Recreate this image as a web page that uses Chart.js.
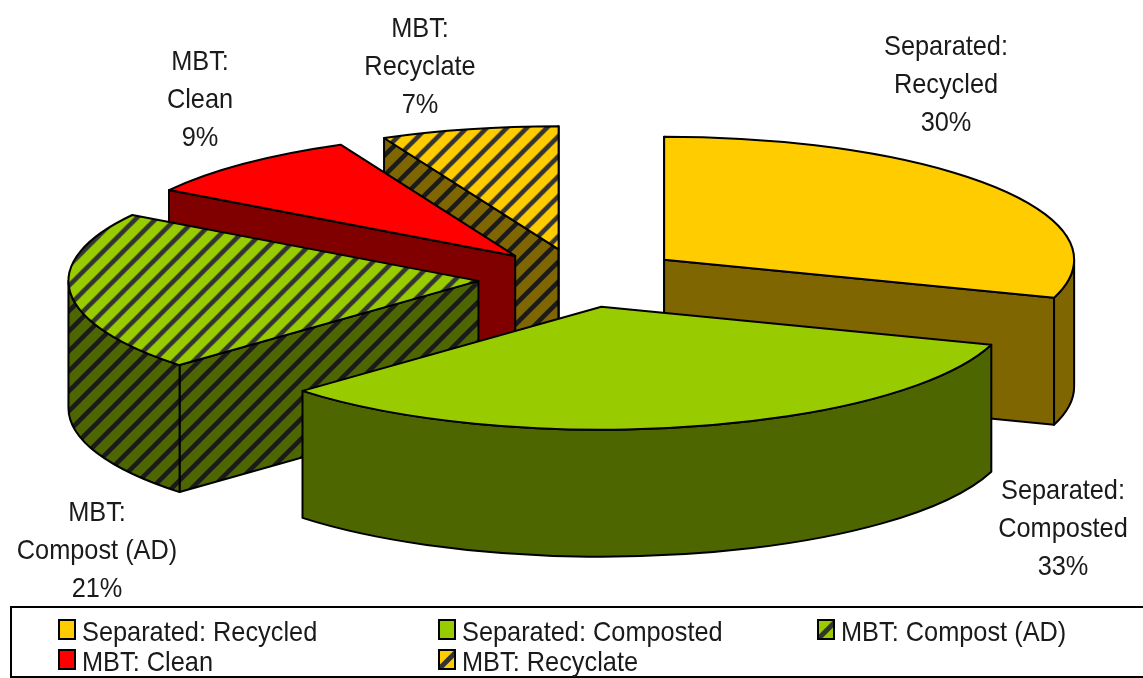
<!DOCTYPE html>
<html>
<head>
<meta charset="utf-8">
<title>Waste treatment shares</title>
<script src="https://cdn.jsdelivr.net/npm/chart.js@4"></script>
<style>
  html, body { margin: 0; padding: 0; background: #fff; overflow: hidden; }
  #chart { display: block; filter: blur(0.4px); }
</style>
</head>
<body>
<canvas id="chart" width="1143" height="678"></canvas>
<script>
// data
const categories = ['Separated: Recycled', 'Separated: Composted', 'MBT: Compost (AD)', 'MBT: Clean', 'MBT: Recyclate'];
const shares = [30, 33, 21, 9, 7];
const labelLines = [
    ['Separated:', 'Recycled'],
    ['Separated:', 'Composted'],
    ['MBT:', 'Compost (AD)'],
    ['MBT:', 'Clean'],
    ['MBT:', 'Recyclate']
];

const topColors = ['#ffcc00', '#99cc00', '#99cc00', '#ff0000', '#ffcc00'];
const sideColors = ['#806600', '#4d6600', '#4d6600', '#800000', '#806600'];
const hatched = [false, false, true, false, true];

// look of the fake 3D
const SQUASH = 0.3;
const DEPTH = 127;
const EXPLODE = [104, 98, 102, 98, 98];
const RADIUS = 410;
const CENTER_Y = 278;
const FONT = '28px "Liberation Sans", Arial, sans-serif';
const TEXT_SQUEEZE = 0.905;
const TEXT_COLOR = '#1a1a1a';
const LINE_WIDTH = 2;

function makeHatch(bg, stripe, unsquash) {
    const size = 20;
    const tile = document.createElement('canvas');
    tile.width = size;
    tile.height = size;
    const c = tile.getContext('2d');
    c.fillStyle = bg;
    c.fillRect(0, 0, size, size);
    c.strokeStyle = stripe;
    c.lineWidth = 4.5;
    [-size, 0, size].forEach(shift => {
        c.beginPath();
        c.moveTo(shift - 2, size + 2);
        c.lineTo(shift + size + 2, -2);
        c.stroke();
    });
    const pattern = c.createPattern(tile, 'repeat');
    // arcs are filled under the squash transform, so stretch the tile back
    if (unsquash) pattern.setTransform(new DOMMatrix().scale(1, 1 / SQUASH));
    return pattern;
}

const topFills = topColors.map((col, i) => hatched[i] ? makeHatch(col, '#333333', true) : col);
const sideFills = sideColors.map((col, i) => hatched[i] ? makeHatch(col, '#1a1a1a', false) : col);

// where each slice label and legend entry goes
const labelSpots = [[946, 47], [1063, 491], [97, 513], [200, 62], [420, 29]];
const legendSpots = [[59, 620], [439, 620], [818, 620], [59, 650], [439, 650]];

function sliceGeometry(el) {
    return {
        x: el.x,
        y: CENTER_Y + (el.y - CENTER_Y) * SQUASH,
        rx: el.outerRadius,
        ry: el.outerRadius * SQUASH,
        start: el.startAngle,
        end: el.endAngle
    };
}

function pointOn(g, angle) {
    return [g.x + Math.cos(angle) * g.rx, g.y + Math.sin(angle) * g.ry];
}

function drawQuad(ctx, a, b, fill) {
    ctx.beginPath();
    ctx.moveTo(a[0], a[1]);
    ctx.lineTo(b[0], b[1]);
    ctx.lineTo(b[0], b[1] + DEPTH);
    ctx.lineTo(a[0], a[1] + DEPTH);
    ctx.closePath();
    ctx.fillStyle = fill;
    ctx.fill();
    ctx.stroke();
}

function drawWalls(ctx, g, fill) {
    const eps = 1e-6;
    const apex = [g.x, g.y];
    // only the faces turned towards the viewer
    if (Math.cos(g.start) < eps) drawQuad(ctx, apex, pointOn(g, g.start), fill);
    if (Math.cos(g.end) > -eps) drawQuad(ctx, apex, pointOn(g, g.end), fill);
    const from = Math.max(g.start, 0);
    const to = Math.min(g.end, Math.PI);
    if (to > from) {
        ctx.beginPath();
        ctx.ellipse(g.x, g.y, g.rx, g.ry, 0, from, to);
        ctx.ellipse(g.x, g.y + DEPTH, g.rx, g.ry, 0, to, from, true);
        ctx.closePath();
        ctx.fillStyle = fill;
        ctx.fill();
        ctx.stroke();
    }
}

function squeezedText(ctx, text, x, y) {
    ctx.fillText(text, x, y, ctx.measureText(text).width * TEXT_SQUEEZE);
}

const fakePie3d = {
    id: 'fakePie3d',
    afterDatasetsUpdate(chart) {
        // pull every slice out from the centre
        chart.getDatasetMeta(0).data.forEach((el, i) => {
            const mid = (el.startAngle + el.endAngle) / 2;
            el.x += Math.cos(mid) * EXPLODE[i];
            el.y += Math.sin(mid) * EXPLODE[i];
        });
    },
    beforeDatasetsDraw(chart) {
        const ctx = chart.ctx;
        const arcs = chart.getDatasetMeta(0).data;
        ctx.save();
        ctx.strokeStyle = '#000';
        ctx.lineWidth = LINE_WIDTH;
        ctx.lineJoin = 'round';
        arcs.map((el, i) => ({ el, i }))
            .sort((a, b) => a.el.y - b.el.y)
            .forEach(item => drawWalls(ctx, sliceGeometry(item.el), sideFills[item.i]));
        ctx.restore();
        // the library fills the top faces under this squash
        ctx.save();
        ctx.translate(0, CENTER_Y);
        ctx.scale(1, SQUASH);
        ctx.translate(0, -CENTER_Y);
    },
    afterDatasetsDraw(chart) {
        const ctx = chart.ctx;
        ctx.restore();
        ctx.save();
        ctx.strokeStyle = '#000';
        ctx.lineWidth = LINE_WIDTH;
        ctx.lineJoin = 'round';
        chart.getDatasetMeta(0).data.forEach(el => {
            const g = sliceGeometry(el);
            ctx.beginPath();
            ctx.moveTo(g.x, g.y);
            ctx.ellipse(g.x, g.y, g.rx, g.ry, 0, g.start, g.end);
            ctx.closePath();
            ctx.stroke();
        });
        ctx.restore();
    },
    afterDraw(chart) {
        const ctx = chart.ctx;
        ctx.save();
        ctx.font = FONT;
        ctx.fillStyle = TEXT_COLOR;
        ctx.textAlign = 'center';
        ctx.textBaseline = 'middle';
        labelLines.forEach((lines, i) => {
            const all = lines.concat(shares[i] + '%');
            all.forEach((line, n) => {
                squeezedText(ctx, line, labelSpots[i][0], labelSpots[i][1] + n * 38);
            });
        });

        // legend box, the columns have to line up so it is drawn here
        ctx.strokeStyle = '#000';
        ctx.lineWidth = 2;
        ctx.strokeRect(11, 607, 1140, 70);
        ctx.textAlign = 'left';
        categories.forEach((name, i) => {
            const [sx, sy] = legendSpots[i];
            ctx.fillStyle = topColors[i];
            ctx.fillRect(sx, sy, 16, 19);
            if (hatched[i]) {
                ctx.save();
                ctx.beginPath();
                ctx.rect(sx, sy, 16, 19);
                ctx.clip();
                ctx.strokeStyle = '#333';
                ctx.lineWidth = 5;
                ctx.beginPath();
                ctx.moveTo(sx - 1, sy + 20);
                ctx.lineTo(sx + 17, sy + 2);
                ctx.stroke();
                ctx.restore();
            }
            ctx.lineWidth = 2;
            ctx.strokeRect(sx, sy, 16, 19);
            ctx.fillStyle = TEXT_COLOR;
            squeezedText(ctx, name, sx + 23, sy + 13);
        });
        ctx.restore();
    }
};

new Chart(document.getElementById('chart'), {
    type: 'pie',
    plugins: [fakePie3d],
    data: {
        labels: categories,
        datasets: [{
            data: shares,
            backgroundColor: topFills,
            borderWidth: 0,
            clip: false
        }]
    },
    options: {
        responsive: false,
        animation: false,
        events: [],
        radius: RADIUS,
        // moves the centre of the chart area to x 580, y 278
        layout: { padding: { left: 17, top: 0, right: 0, bottom: 678 - 2 * CENTER_Y } },
        plugins: {
            legend: { display: false },
            tooltip: { enabled: false }
        }
    }
});
</script>
</body>
</html>
